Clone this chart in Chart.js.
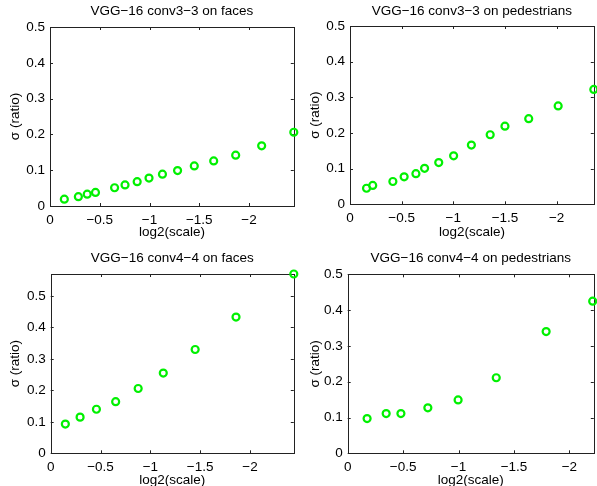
<!DOCTYPE html>
<html lang="en">
<head>
  <meta charset="UTF-8">
  <title>VGG-16 sigma vs scale</title>
  <script src="https://cdn.jsdelivr.net/npm/chart.js"></script>
  <style>
    html, body {
      margin: 0;
      padding: 0;
      width: 597px;
      height: 486px;
      overflow: hidden;
      background: #fff;
    }
    canvas {
      position: absolute;
    }
  </style>
</head>
<body>
  <canvas id="c1" width="300" height="245" style="left:0;top:0"></canvas>
  <canvas id="c2" width="300" height="245" style="left:300px;top:0"></canvas>
  <canvas id="c3" width="300" height="250" style="left:0;top:245px"></canvas>
  <canvas id="c4" width="300" height="250" style="left:300px;top:245px"></canvas>

  <script>
    // valores (log2 da escala, sigma)
    const facesConv3X = [-0.144, -0.285, -0.374, -0.457, -0.649, -0.754, -0.876, -0.995, -1.13, -1.282, -1.45, -1.645, -1.866, -2.127, -2.45];
    const facesConv3Y = [0.019, 0.026, 0.033, 0.038, 0.051, 0.059, 0.068, 0.078, 0.089, 0.099, 0.112, 0.126, 0.142, 0.168, 0.206];

    const pedConv3X = [-0.16, -0.22, -0.415, -0.524, -0.638, -0.722, -0.859, -1.003, -1.175, -1.357, -1.5, -1.73, -2.015, -2.36];
    const pedConv3Y = [0.045, 0.053, 0.064, 0.077, 0.086, 0.101, 0.117, 0.136, 0.166, 0.195, 0.219, 0.240, 0.276, 0.322];

    const facesConv4X = [-0.147, -0.295, -0.459, -0.652, -0.878, -1.13, -1.45, -1.86, -2.44];
    const facesConv4Y = [0.093, 0.115, 0.14, 0.164, 0.206, 0.255, 0.33, 0.433, 0.57];

    const pedConv4X = [-0.175, -0.347, -0.48, -0.723, -0.996, -1.34, -1.79, -2.21];
    const pedConv4Y = [0.097, 0.111, 0.111, 0.127, 0.149, 0.211, 0.34, 0.425];

    const xTickStep = 0.5;
    const yTickStep = 0.1;

    const FONT = "'Liberation Sans', Arial, sans-serif";
    const GREEN = 'rgb(0, 240, 0)';

    // caixa estilo matlab com marcas para dentro
    const caixa = {
      id: 'caixa',
      beforeDatasetsDraw(chart) {
        const {ctx, chartArea: a, scales: {x, y}} = chart;
        ctx.save();
        ctx.strokeStyle = '#222';
        ctx.lineWidth = 1;
        ctx.strokeRect(Math.round(a.left) + 0.5, Math.round(a.top) + 0.5,
                       Math.round(a.right - a.left), Math.round(a.bottom - a.top));
        ctx.beginPath();
        x.ticks.forEach(t => {
          const px = Math.round(x.getPixelForValue(t.value)) + 0.5;
          ctx.moveTo(px, a.bottom); ctx.lineTo(px, a.bottom - 3);
          ctx.moveTo(px, a.top); ctx.lineTo(px, a.top + 3);
        });
        y.ticks.forEach(t => {
          const py = Math.round(y.getPixelForValue(t.value)) + 0.5;
          ctx.moveTo(a.left, py); ctx.lineTo(a.left + 3, py);
          ctx.moveTo(a.right, py); ctx.lineTo(a.right - 3, py);
        });
        ctx.stroke();
        ctx.restore();
      }
    };

    function fmtX(v) {
      if (Math.abs(v) < 1e-9) return '0';
      return '\u2212' + String(Math.round(Math.abs(v) * 10) / 10);
    }

    function fmtY(v) {
      return String(Math.round(v * 10) / 10);
    }

    function criarPainel(id, titulo, xs, ys, o) {
      const ctx = document.getElementById(id).getContext('2d');
      return new Chart(ctx, {
        type: 'scatter',
        data: {
          datasets: [{
            data: xs.map((x, i) => ({x: x, y: ys[i]})),
            pointStyle: 'circle',
            pointRadius: 3.5,
            pointBorderWidth: 2.2,
            pointBackgroundColor: 'rgba(0,0,0,0)',
            pointBorderColor: GREEN,
            clip: false
          }]
        },
        options: {
          responsive: false,
          animation: false,
          devicePixelRatio: 1,
          layout: {padding: {left: 0, right: o.padRight, top: 0, bottom: 0}},
          plugins: {
            legend: {display: false},
            tooltip: {enabled: false},
            title: {
              display: true,
              text: titulo,
              fullSize: false,
              color: '#000',
              font: {family: FONT, size: 13.5, weight: 'normal', lineHeight: 1.2},
              padding: {top: o.titleTop, bottom: o.titleBottom}
            }
          },
          scales: {
            x: {
              type: 'linear',
              reverse: true,
              min: o.xMin,
              max: 0,
              afterFit: s => { s.height = o.xHeight; },
              grid: {display: false, drawTicks: false},
              border: {display: false},
              ticks: {
                stepSize: xTickStep,
                includeBounds: false,
                padding: 6,
                color: '#000',
                font: {family: FONT, size: 13.5},
                maxRotation: 0,
                autoSkip: false,
                callback: fmtX
              },
              title: {
                display: true,
                text: 'log2(scale)',
                color: '#000',
                font: {family: FONT, size: 13.5, lineHeight: 1.2},
                padding: {top: 0, bottom: o.xTitleBottom}
              }
            },
            y: {
              type: 'linear',
              min: 0,
              max: o.yMax,
              afterFit: s => { s.width = o.yWidth; },
              grid: {display: false, drawTicks: false},
              border: {display: false},
              ticks: {
                stepSize: yTickStep,
                includeBounds: false,
                padding: 5,
                color: '#000',
                font: {family: FONT, size: 13.5},
                autoSkip: false,
                callback: fmtY
              },
              title: {
                display: true,
                text: '\u03c3 (ratio)',
                color: '#000',
                font: {family: FONT, size: 13.5, lineHeight: 1.2},
                padding: {top: 7, bottom: 0}
              }
            }
          }
        },
        plugins: [caixa]
      });
    }

    criarPainel('c1', 'VGG\u221216 conv3\u22123 on faces', facesConv3X, facesConv3Y,
      {xMin: -2.45, yMax: 0.5, yWidth: 50, xHeight: 39, padRight: 2, titleTop: 2.7, titleBottom: 8.1, xTitleBottom: 5});
    criarPainel('c2', 'VGG\u221216 conv3\u22123 on pedestrians', pedConv3X, pedConv3Y,
      {xMin: -2.36, yMax: 0.5, yWidth: 50, xHeight: 40.7, padRight: 3.3, titleTop: 2.7, titleBottom: 7.1, xTitleBottom: 5});
    criarPainel('c3', 'VGG\u221216 conv4\u22124 on faces', facesConv4X, facesConv4Y,
      {xMin: -2.44, yMax: 0.57, yWidth: 50.7, xHeight: 41.7, padRight: 1.7, titleTop: 5, titleBottom: 7.8, xTitleBottom: 7});
    criarPainel('c4', 'VGG\u221216 conv4\u22124 on pedestrians', pedConv4X, pedConv4Y,
      {xMin: -2.22, yMax: 0.5, yWidth: 47.7, xHeight: 41.7, padRight: 4, titleTop: 5, titleBottom: 8.1, xTitleBottom: 7});
  </script>
</body>
</html>
